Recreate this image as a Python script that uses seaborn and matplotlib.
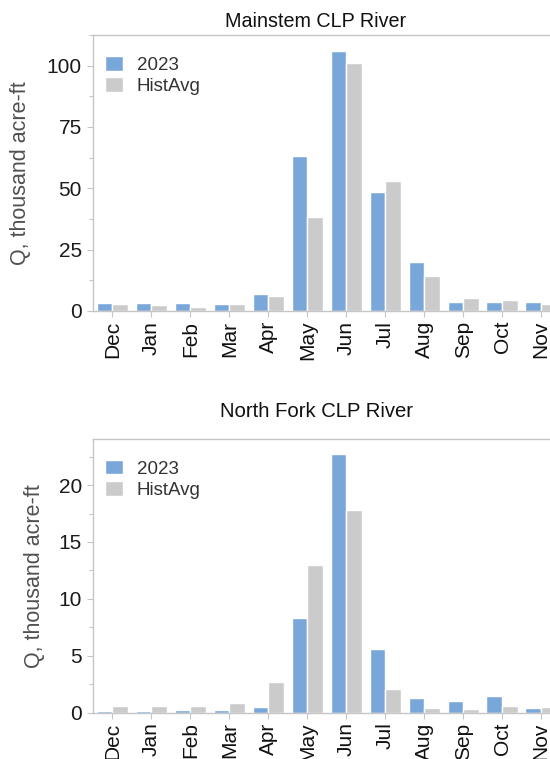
import matplotlib
matplotlib.use("Agg")
import matplotlib.pyplot as plt
from matplotlib.ticker import MultipleLocator
import seaborn as sns
import pandas as pd

months = ["Dec", "Jan", "Feb", "Mar", "Apr", "May", "Jun", "Jul", "Aug", "Sep", "Oct", "Nov"]
series_names = ["2023", "HistAvg"]

main_2023 = [3.4, 3.4, 3.2, 3.0, 6.9, 63.2, 106.1, 48.4, 20.1, 3.7, 3.7, 3.5]
main_hist = [2.7, 2.3, 1.8, 2.7, 6.2, 38.2, 101.0, 53.1, 14.3, 5.3, 4.6, 2.9]

nf_2023 = [0.18, 0.12, 0.20, 0.23, 0.50, 8.29, 22.7, 5.62, 1.32, 1.05, 1.44, 0.41]
nf_hist = [0.62, 0.59, 0.59, 0.85, 2.70, 12.95, 17.8, 2.08, 0.41, 0.35, 0.62, 0.47]

titles = ["Mainstem CLP River", "North Fork CLP River"]
ylabel = "Q, thousand acre-ft"


def long_df(a, b):
    return pd.DataFrame({
        "month": months * 2,
        "series": [series_names[0]] * len(months) + [series_names[1]] * len(months),
        "value": list(a) + list(b),
    })


sns.set_theme(style="white")
plt.rcParams["font.family"] = ["Liberation Sans", "DejaVu Sans"]

BLUE = "#7AA7DA"
GRAY = "#CBCBCB"
SPINE = "#C6C6C6"

fig = plt.figure(figsize=(5.5, 7.59), dpi=100)
ax1 = fig.add_axes([0.1691, 0.5903, 0.85, 0.3636])
ax2 = fig.add_axes([0.1691, 0.0610, 0.85, 0.3606])

configs = [
    (ax1, main_2023, main_hist, (0, 112.5), 25, 12.5, 5.8, titles[0], 14.2, 11),
    (ax2, nf_2023, nf_hist, (0, 24.05), 5, 2.5, 16, titles[1], 14.6, 10),
]

for ax, a, b, ylim, major, minor, tpad, title, tsize, lpad in configs:
    df = long_df(a, b)
    sns.barplot(data=df, x="month", y="value", hue="series", order=months,
                hue_order=series_names, palette=[BLUE, GRAY], width=0.8,
                saturation=1, ax=ax)
    ax.set_ylim(*ylim)
    ax.set_xlim(-0.5, 11.5)
    ax.yaxis.set_major_locator(MultipleLocator(major))
    ax.yaxis.set_minor_locator(MultipleLocator(minor))
    ax.set_xlabel("")
    ax.set_ylabel(ylabel, fontsize=15.5, color="#505050", labelpad=lpad)
    ax.tick_params(axis="y", which="major", left=True, length=4, width=0.8,
                   color=SPINE, labelsize=15, labelcolor="#1a1a1a", pad=4)
    ax.tick_params(axis="y", which="minor", left=True, length=3, width=0.8,
                   color=SPINE)
    ax.tick_params(axis="x", which="major", bottom=True, length=4, width=0.8,
                   color=SPINE, labelsize=15, labelcolor="#111111", pad=3,
                   labelrotation=90)
    for s in ["left", "top", "bottom"]:
        ax.spines[s].set_visible(True)
        ax.spines[s].set_color(SPINE)
        ax.spines[s].set_linewidth(1.0)
    ax.spines["right"].set_visible(False)
    ax.set_title(title, fontsize=tsize, color="#111111", pad=tpad, x=0.477)
    leg = ax.legend(loc="upper left", bbox_to_anchor=(0.025, 0.925),
                    frameon=False, fontsize=13.5, handlelength=0.95,
                    handleheight=0.85, handletextpad=0.75, labelspacing=0.2,
                    borderpad=0, borderaxespad=0)
    for t in leg.get_texts():
        t.set_color("#333333")

fig.savefig("out.png", dpi=100)
